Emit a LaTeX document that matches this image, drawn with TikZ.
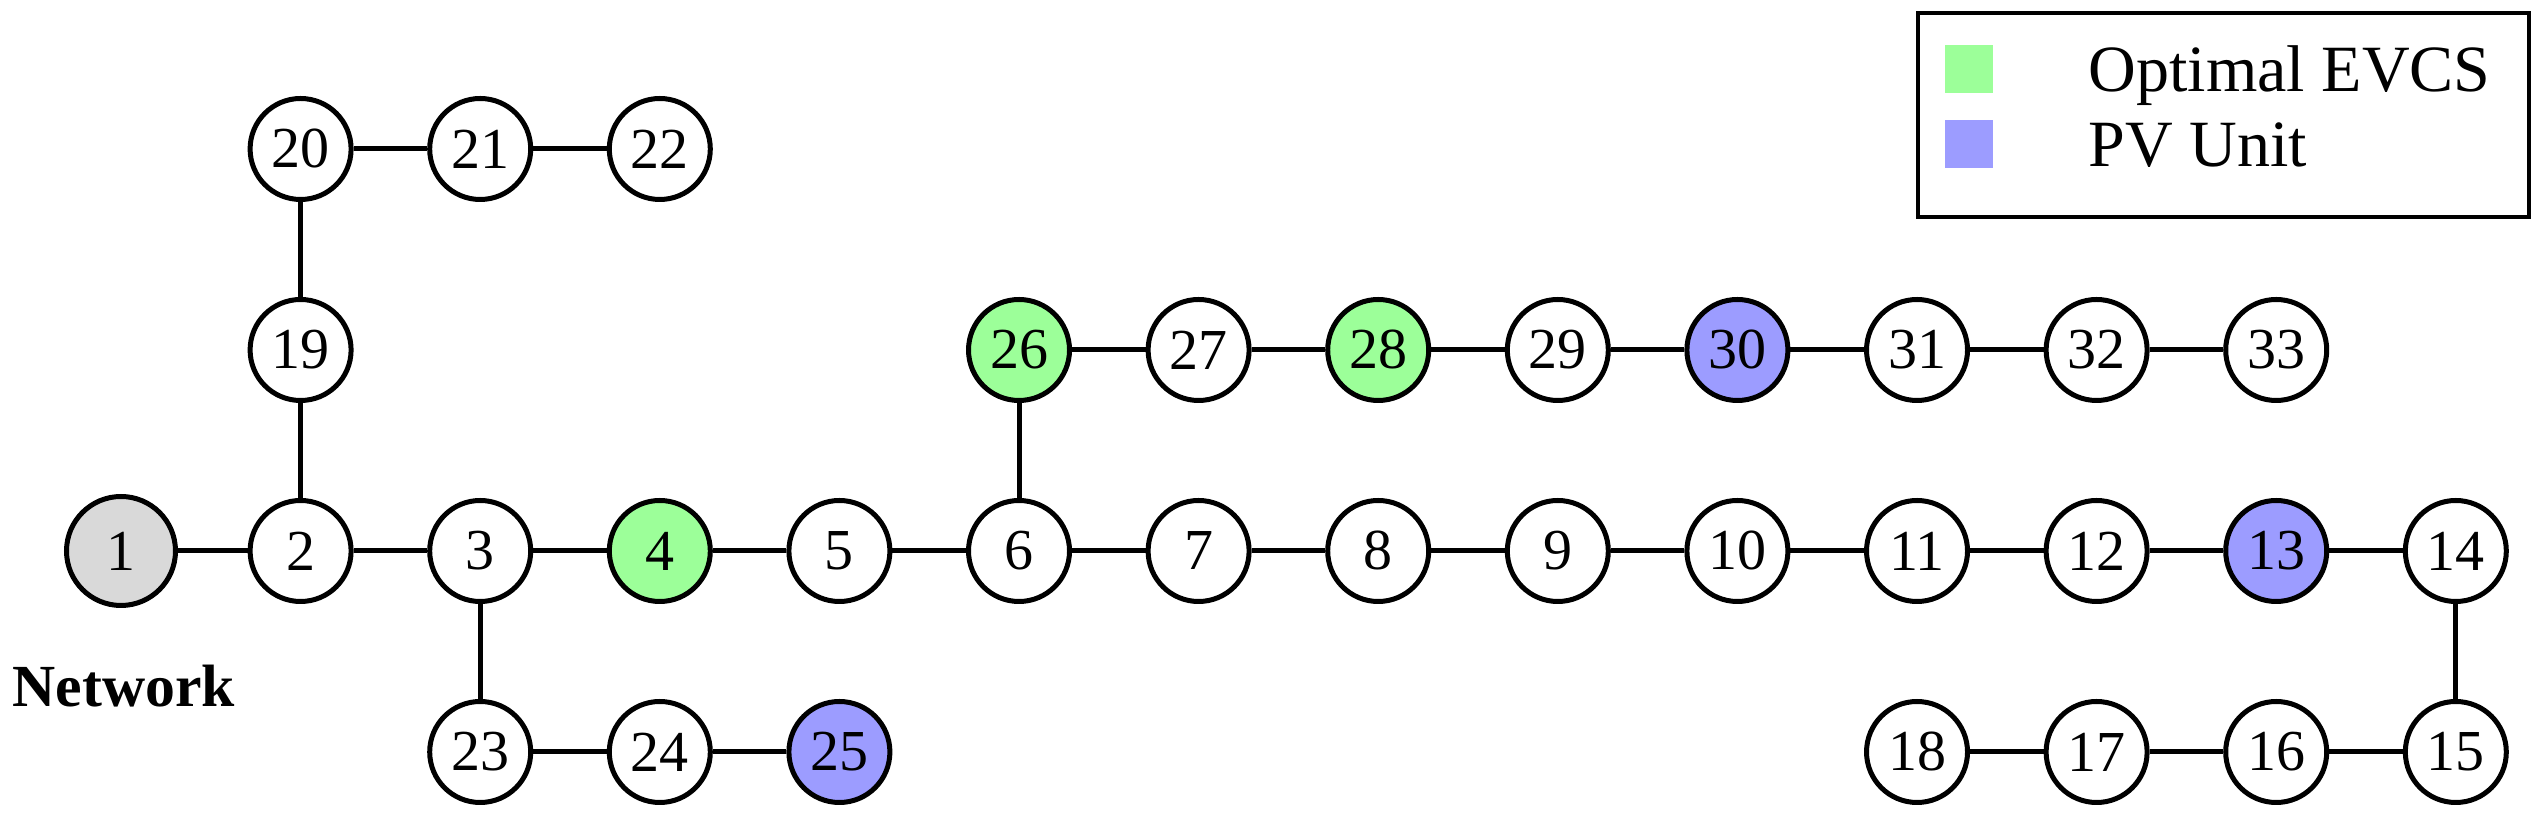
\documentclass[tikz,border=0pt]{standalone}
\usepackage{fontspec}
\setmainfont{Liberation Serif}
\usetikzlibrary{positioning}

\definecolor{evcsgreen}{RGB}{156,255,153}
\definecolor{pvblue}{RGB}{156,156,255}
\definecolor{slackgray}{RGB}{217,217,217}

\begin{document}
\begin{tikzpicture}[
    bus/.style={draw, circle, line width=0.05cm, minimum size=1.01cm,
                inner sep=0pt, fill=white, font=\fontsize{16.5}{19}\selectfont},
    feeder/.style={line width=0.05cm},
    keytext/.style={anchor=base west, inner sep=0pt,
                    font=\fontsize{18.8}{22}\selectfont}
  ]
  \useasboundingbox (0,0) rectangle (25.4,-8.21);

  \begin{scope}[shift={(1.21,-1.49)}, x=1.796cm, y=-2.01cm]
    % substation bus
    \node[bus, fill=slackgray, minimum size=1.09cm] (b1) at (0,2) {1};

    % main feeder
    \foreach \i in {2,...,14} {
      \def\fillcol{white}
      \ifnum\i=4 \def\fillcol{evcsgreen}\fi
      \ifnum\i=13 \def\fillcol{pvblue}\fi
      \node[bus, fill=\fillcol] (b\i) at (\i-1, 2) {\i};
    }
    \foreach \i/\c in {15/13, 16/12, 17/11, 18/10}
      \node[bus] (b\i) at (\c, 3) {\i};

    % lateral branches
    \node[bus] (b19) at (1,1) {19};
    \foreach \i/\c in {20/1, 21/2, 22/3}
      \node[bus] (b\i) at (\c, 0) {\i};
    \node[bus] (b23) at (2,3) {23};
    \node[bus] (b24) at (3,3) {24};
    \node[bus, fill=pvblue] (b25) at (4,3) {25};

    \foreach \i in {26,...,33} {
      \def\fillcol{white}
      \ifnum\i=26 \def\fillcol{evcsgreen}\fi
      \ifnum\i=28 \def\fillcol{evcsgreen}\fi
      \ifnum\i=30 \def\fillcol{pvblue}\fi
      \node[bus, fill=\fillcol] (b\i) at (\i-21, 1) {\i};
    }
  \end{scope}

  % lines
  \foreach \i [count=\j from 2] in {1,...,17}
    \draw[feeder] (b\i) -- (b\j);
  \draw[feeder] (b2) -- (b19) -- (b20) -- (b21) -- (b22);
  \draw[feeder] (b3) -- (b23) -- (b24) -- (b25);
  \draw[feeder] (b6) -- (b26);
  \foreach \i [count=\j from 27] in {26,...,32}
    \draw[feeder] (b\i) -- (b\j);

  \node[anchor=base west, inner sep=0pt,
        font=\fontsize{17}{19}\selectfont\bfseries]
    (netlabel) at (0.12,-7.07) {Network};

  % legend
  \draw[line width=0.045cm] (19.18,-0.13) rectangle (25.29,-2.17);
  \node[fill=evcsgreen, minimum size=0.48cm, inner sep=0pt] (keyevcs)
    at (19.69,-0.69) {};
  \node[fill=pvblue, minimum size=0.48cm, inner sep=0pt] (keypv)
    at (19.69,-1.44) {};
  \node[keytext] (evcstext) at (20.88,-0.92) {Optimal EVCS};
  \node[keytext] (pvtext) at (20.88,-1.67) {PV Unit};
\end{tikzpicture}
\end{document}
